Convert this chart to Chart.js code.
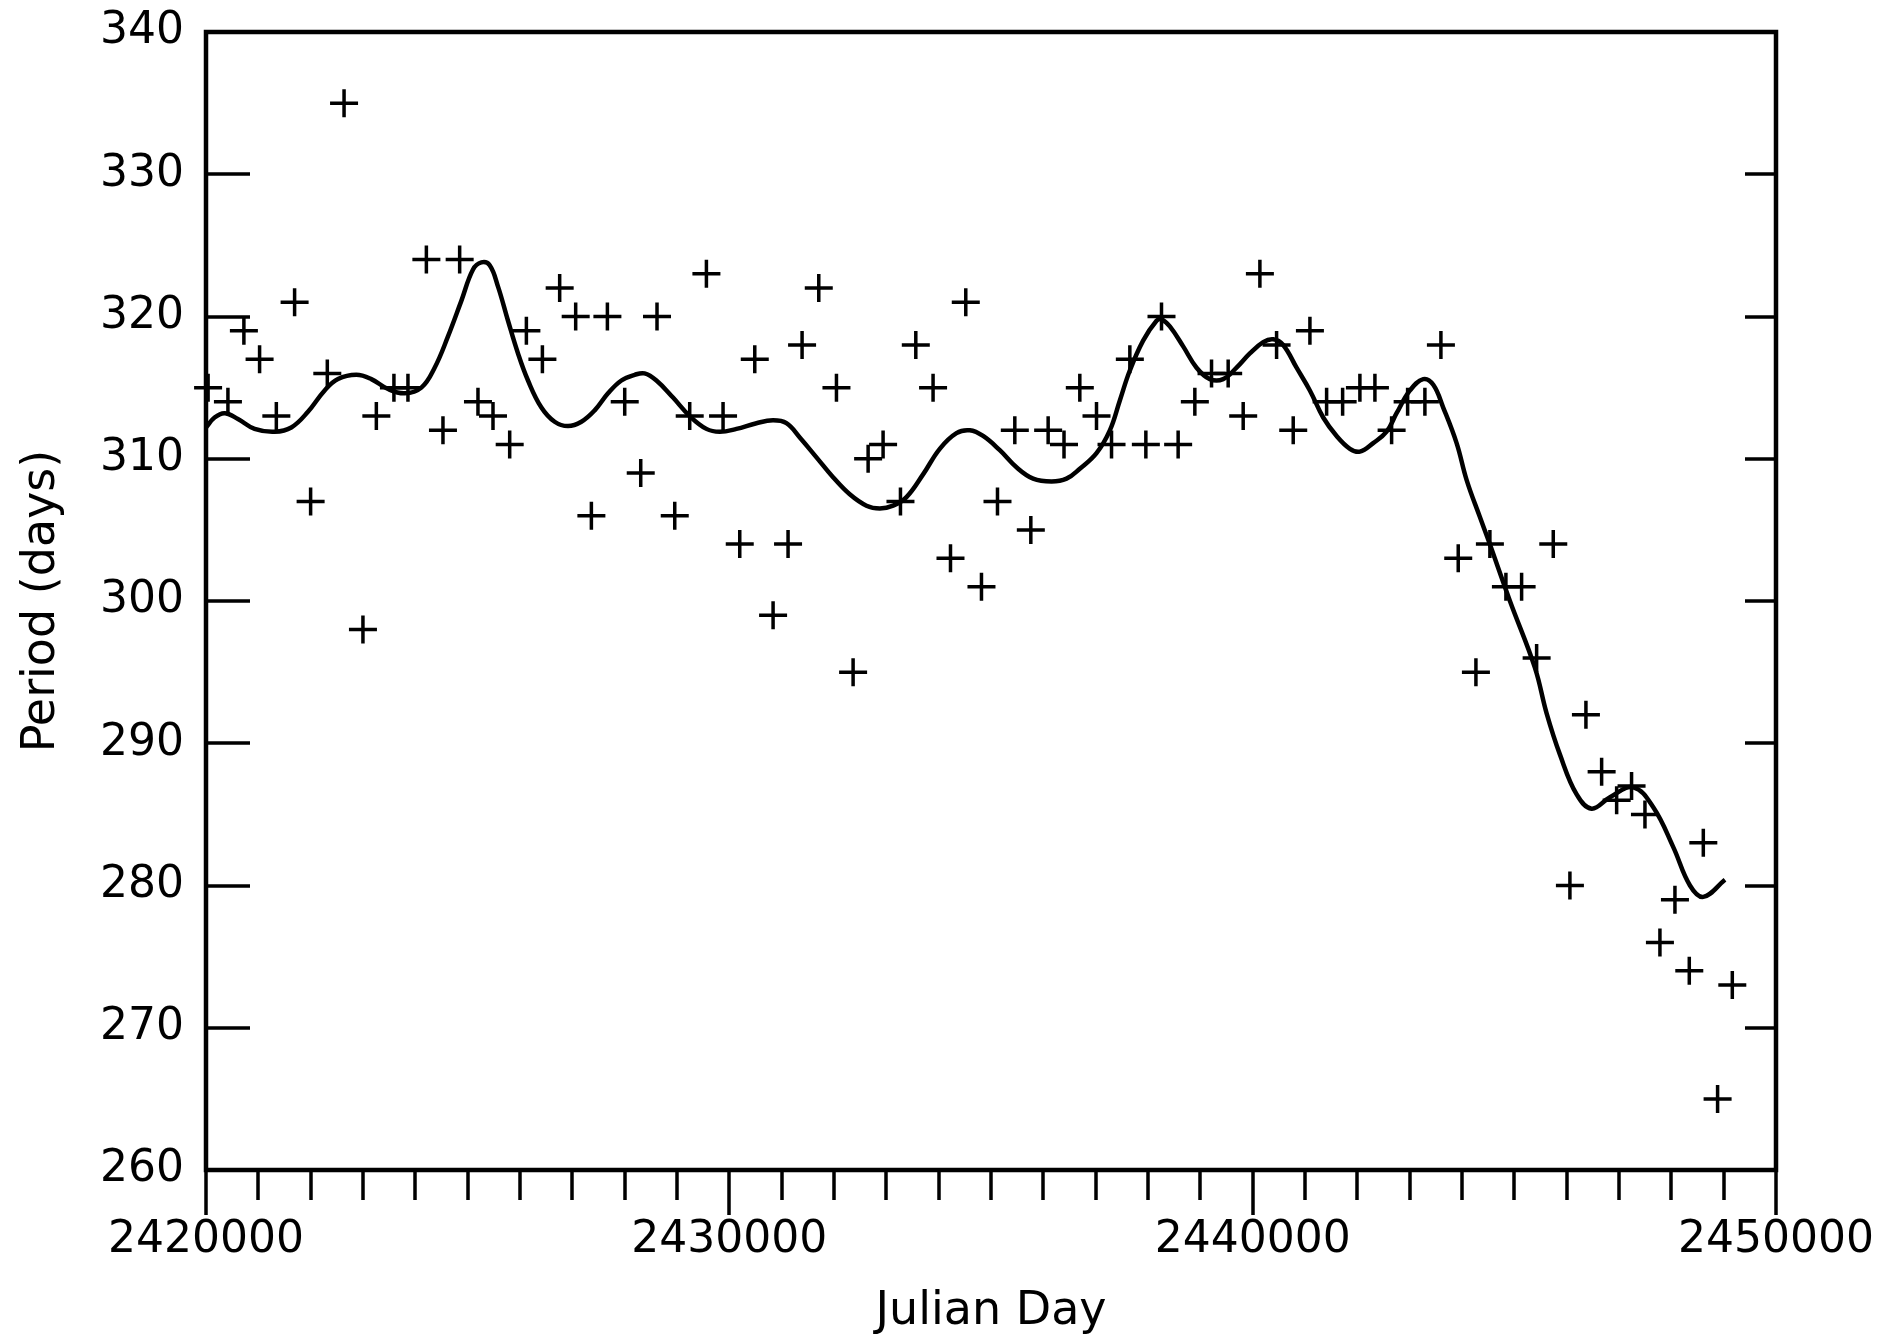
<!DOCTYPE html>
<html>
<head>
<meta charset="utf-8">
<title>Period (days) vs Julian Day</title>
<script src="https://cdn.jsdelivr.net/npm/chart.js@4/dist/chart.umd.min.js"></script>
<style>
  html, body { margin: 0; padding: 0; background: #ffffff; }
  canvas { display: block; }
</style>
</head>
<body>
<canvas id="chart" width="1881" height="1340"></canvas>
<script>
// Individual period measurements (one per cycle): Julian Day and period in days
const obsJD = [
  2420040, 2420419, 2420724, 2421024, 2421344, 2421693, 2421999, 2422318, 2422638, 2422999,
  2423255, 2423591, 2423859, 2424211, 2424528, 2424847, 2425197, 2425484, 2425803, 2426122,
  2426428, 2426758, 2427064, 2427364, 2427670, 2428001, 2428307, 2428618, 2428957, 2429243,
  2429562, 2429880, 2430199, 2430486, 2430836, 2431122, 2431390, 2431709, 2432047, 2432365,
  2432652, 2432938, 2433270, 2433563, 2433893, 2434226, 2434518, 2434818, 2435124, 2435455,
  2435761, 2436092, 2436395, 2436697, 2437016, 2437303, 2437653, 2437959, 2438258, 2438576,
  2438895, 2439214, 2439532, 2439819, 2440138, 2440457, 2440775, 2441094, 2441413, 2441719,
  2442049, 2442336, 2442655, 2442961, 2443291, 2443597, 2443928, 2444266, 2444533, 2444839,
  2445139, 2445426, 2445744, 2446062, 2446368, 2446668, 2446955, 2447240, 2447496, 2447782,
  2448069, 2448343, 2448611, 2448884, 2449165
];
const obsPeriod = [
  315, 314, 319, 317, 313, 321, 307, 316, 335, 298,
  313, 315, 315, 324, 312, 324, 314, 313, 311, 319,
  317, 322, 320, 306, 320, 314, 309, 320, 306, 313,
  323, 313, 304, 317, 299, 304, 318, 322, 315, 295,
  310, 311, 307, 318, 315, 303, 321, 301, 307, 312,
  305, 312, 311, 315, 313, 311, 317, 311, 320, 311,
  314, 316, 316, 313, 323, 318, 312, 319, 314, 314,
  315, 315, 312, 314, 314, 318, 303, 295, 304, 301,
  301, 296, 304, 280, 292, 288, 286, 287, 285, 276,
  279, 274, 283, 265, 273
];

// Smoothed period curve
const fitJD = [
  2420000, 2420164, 2420356, 2420610, 2420929, 2421311, 2421630, 2421948, 2422267, 2422522,
  2422872, 2423159, 2423478, 2423796, 2424115, 2424369, 2424624, 2424879, 2425102, 2425262,
  2425421, 2425580, 2425771, 2425962, 2426153, 2426409, 2426662, 2426917, 2427173, 2427427,
  2427682, 2427937, 2428192, 2428380, 2428607, 2428924, 2429243, 2429562, 2429817, 2430136,
  2430518, 2430835, 2431091, 2431346, 2431665, 2431982, 2432301, 2432620, 2432875, 2433129,
  2433385, 2433702, 2434021, 2434340, 2434595, 2434849, 2435168, 2435487, 2435805, 2436157,
  2436443, 2436697, 2437016, 2437271, 2437462, 2437653, 2437907, 2438163, 2438258, 2438417,
  2438672, 2438928, 2439182, 2439436, 2439692, 2439946, 2440201, 2440392, 2440583, 2440839,
  2441093, 2441348, 2441604, 2441858, 2442049, 2442303, 2442559, 2442750, 2443005, 2443259,
  2443451, 2443641, 2443897, 2444089, 2444342, 2444502, 2444916, 2445394, 2445617, 2445872,
  2446191, 2446477, 2446827, 2447273, 2447655, 2448037, 2448356, 2448611, 2449025
];
const fitPeriod = [
  312.2, 312.9, 313.2, 312.8, 312.1, 311.9, 312.2, 313.3, 314.8, 315.6,
  315.9, 315.6, 314.9, 314.6, 315.0, 316.4, 318.6, 321.1, 323.3, 323.8,
  323.6, 322.1, 319.7, 317.4, 315.5, 313.6, 312.6, 312.3, 312.6, 313.4,
  314.6, 315.5, 315.9, 316.0, 315.5, 314.3, 313.0, 312.1, 311.9, 312.1,
  312.5, 312.7, 312.5, 311.5, 310.1, 308.7, 307.5, 306.7, 306.5, 306.7,
  307.3, 308.9, 310.7, 311.8, 312.0, 311.6, 310.6, 309.4, 308.6, 308.4,
  308.6, 309.3, 310.4, 312.0, 314.1, 316.2, 318.3, 319.7, 319.8, 319.3,
  317.9, 316.4, 315.6, 315.6, 316.4, 317.4, 318.2, 318.4, 318.0, 316.4,
  314.8, 312.9, 311.6, 310.7, 310.5, 311.1, 311.9, 313.2, 314.8, 315.6,
  315.2, 313.6, 311.1, 308.5, 305.9, 304.3, 300.0, 295.3, 292.1, 289.2,
  286.4, 285.4, 286.2, 286.9, 285.5, 282.7, 280.0, 279.2, 280.4
];

// Axis ranges and tick steps
const xRange = [2420000, 2450000];
const yRange = [260, 340];
const xMajorStep = 10000;
const xMinorStep = 1000;
const yStep = 10;

const TICK_FONT = { family: "'DejaVu Sans', sans-serif", size: 44 };
const TITLE_FONT = { family: "'DejaVu Sans', sans-serif", size: 46 };
const INK = '#000000';

// Frame plus tick marks: inward on the left/right, outward (major/minor) below
const frameTicks = {
  id: 'frameTicks',
  afterDatasetsDraw(chart) {
    const { ctx, chartArea: a, scales } = chart;
    const xs = scales.x, ys = scales.y;
    ctx.save();
    ctx.strokeStyle = INK;
    ctx.lineCap = 'butt';

    ctx.lineWidth = 3.5;
    ctx.beginPath();
    for (let v = yRange[0]; v <= yRange[1]; v += yStep) {
      const py = Math.round(ys.getPixelForValue(v));
      ctx.moveTo(a.left, py); ctx.lineTo(a.left + 44, py);
      ctx.moveTo(a.right - 31, py); ctx.lineTo(a.right, py);
    }
    for (let v = xRange[0]; v <= xRange[1]; v += xMinorStep) {
      const px = Math.round(xs.getPixelForValue(v));
      const len = (v - xRange[0]) % xMajorStep === 0 ? 45 : 30;
      ctx.moveTo(px, a.bottom); ctx.lineTo(px, a.bottom + len);
    }
    ctx.stroke();

    ctx.lineWidth = 4.5;
    ctx.strokeRect(a.left, a.top, a.right - a.left, a.bottom - a.top);
    ctx.restore();
  }
};

new Chart(document.getElementById('chart'), {
  type: 'scatter',
  data: {
    datasets: [
      {
        type: 'line',
        data: fitJD.map((x, i) => ({ x, y: fitPeriod[i] })),
        borderColor: INK,
        borderWidth: 4.5,
        borderJoinStyle: 'round',
        pointRadius: 0,
        fill: false,
        tension: 0.4
      },
      {
        type: 'scatter',
        data: obsJD.map((x, i) => ({ x, y: obsPeriod[i] })),
        pointStyle: 'cross',
        pointRadius: 14,
        pointHoverRadius: 14,
        borderColor: INK,
        borderWidth: 3.5,
        clip: false
      }
    ]
  },
  options: {
    responsive: false,
    animation: false,
    events: [],
    layout: { padding: { left: 0, top: 32, right: 105, bottom: 0 } },
    plugins: { legend: { display: false }, tooltip: { enabled: false } },
    scales: {
      x: {
        type: 'linear',
        position: 'bottom',
        min: xRange[0],
        max: xRange[1],
        grid: { display: false, drawTicks: false },
        border: { display: false },
        ticks: {
          stepSize: xMajorStep,
          autoSkip: false,
          maxRotation: 0,
          padding: 44,
          color: INK,
          font: TICK_FONT,
          callback: (v) => String(v)
        },
        title: {
          display: true,
          text: 'Julian Day',
          color: INK,
          font: TITLE_FONT,
          padding: { top: 0, bottom: 0 }
        },
        afterFit(scale) {
          scale.height = 170;
          scale.paddingLeft = 0;
          scale.paddingRight = 0;
        }
      },
      y: {
        type: 'linear',
        position: 'left',
        min: yRange[0],
        max: yRange[1],
        grid: { display: false, drawTicks: false },
        border: { display: false },
        ticks: {
          stepSize: yStep,
          padding: 22,
          color: INK,
          font: TICK_FONT
        },
        title: {
          display: true,
          text: 'Period (days)',
          color: INK,
          font: TITLE_FONT,
          padding: { top: 14, bottom: 0 }
        },
        afterFit(scale) {
          scale.width = 206;
          scale.paddingTop = 0;
          scale.paddingBottom = 0;
        }
      }
    }
  },
  plugins: [frameTicks]
});
</script>
</body>
</html>
